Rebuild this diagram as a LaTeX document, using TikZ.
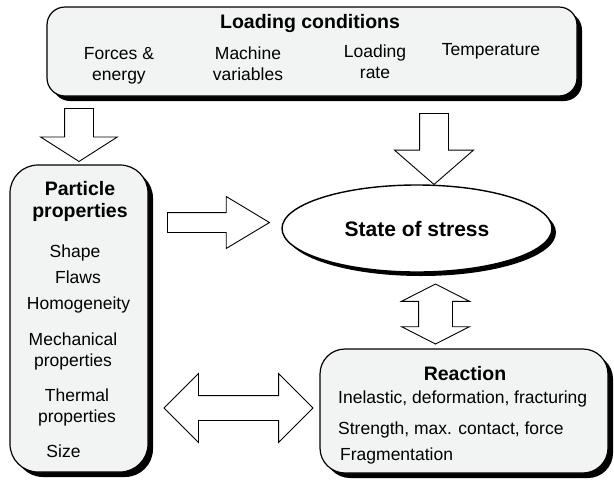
\documentclass[tikz,border=0pt]{standalone}
\usepackage{fontspec}
\setmainfont{Liberation Sans}
\usepackage{tikz}
\usetikzlibrary{shapes.geometric,shapes.arrows,shadows}
\definecolor{GrisCaja}{RGB}{242,243,243}

\begin{document}
\begin{tikzpicture}[x=1pt,y=-1pt,
  caja/.style={draw,line width=1.2pt,fill=GrisCaja,rounded corners=#1,
    drop shadow={shadow xshift=5pt,shadow yshift=-5pt,opacity=1,fill=black}},
  txt/.style={inner sep=0pt,font=\fontsize{17.5}{21}\selectfont,align=center,anchor=base},
  txtizq/.style={txt,align=left,anchor=base west},
  tit/.style={inner sep=0pt,font=\fontsize{19.5}{22}\selectfont\bfseries,align=center,anchor=base},
  flecha/.style={single arrow,draw,fill=white,line width=0.9pt,inner xsep=0pt,
    single arrow head indent=0pt,anchor=tail},
  dflecha/.style={double arrow,draw,fill=white,line width=0.9pt,inner xsep=0pt,
    double arrow head indent=0pt}]
  \useasboundingbox (0,0) rectangle (614,483);

  \node[caja=18pt,minimum width=530pt,minimum height=89pt] (load) at (312,51.5) {};
  \node[tit] (loadtit) at (310,28) {Loading conditions};
  \node[txt] (forces) at (119,80) {Forces \&\\energy};
  \node[txt] (machine) at (248,80) {Machine\\variables};
  \node[txt] (rate) at (375,78) {Loading\\rate};
  \node[txt] (temp) at (491,55) {Temperature};

  \node[caja=28pt,minimum width=138pt,minimum height=307pt] (particle) at (79,318.5) {};
  \node[tit] (parttit) at (80,217) {Particle\\properties};
  \node[txt] (shape) at (75,257) {Shape};
  \node[txt] (flaws) at (78,283) {Flaws};
  \node[txt] (homog) at (78.5,309) {Homogeneity};
  \node[txt] (mech) at (73,366) {Mechanical\\properties};
  \node[txt] (therm) at (77,422) {Thermal\\properties};
  \node[txt] (size) at (63.5,457) {Size};

  \node[ellipse,draw,line width=1.4pt,fill=white,minimum width=270pt,minimum height=87pt,
    drop shadow={shadow xshift=4pt,shadow yshift=-4pt,opacity=1,fill=black},
    font=\fontsize{21}{25}\selectfont\bfseries] (stress) at (417,228.5) {State of stress};

  \node[caja=25pt,minimum width=288pt,minimum height=124pt] (reaction) at (464,411) {};
  \node[tit] (reacttit) at (465,380) {Reaction};
  \node[txtizq] (inelastic) at (338,403) {Inelastic, deformation, fracturing};
  \node[txtizq] (strength) at (338,434) {Strength, max. contact, force};
  \node[txtizq] (frag) at (340,460) {Fragmentation};

  \node[flecha,rotate=-90,minimum height=53pt,inner ysep=14pt,
    single arrow head extend=24pt,single arrow tip angle=115] (loadpart) at (79,108) {};
  \node[flecha,rotate=-90,minimum height=71pt,inner ysep=14pt,
    single arrow head extend=25pt,single arrow tip angle=98] (loadstress) at (434,113) {};
  \node[flecha,minimum height=102pt,inner ysep=9.5pt,
    single arrow head extend=16pt,single arrow tip angle=62] (partstress) at (167,222.5) {};
  \node[dflecha,minimum height=149pt,inner ysep=12pt,
    double arrow head extend=22pt,double arrow tip angle=90] (partreact) at (238.5,408) {};
  \node[dflecha,rotate=90,minimum height=60pt,inner ysep=16.5pt,
    double arrow head extend=17pt,double arrow tip angle=126] (stressreact) at (435.5,314) {};
\end{tikzpicture}
\end{document}
